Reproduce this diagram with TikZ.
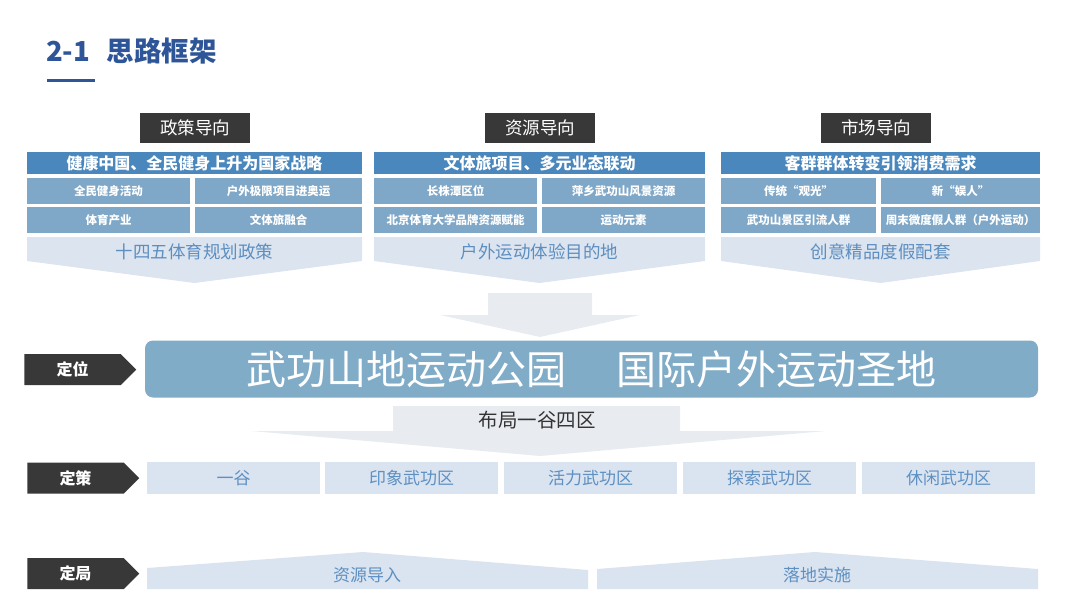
\documentclass[tikz,border=0pt]{standalone}
\usepackage{fontspec}
\setmainfont{Noto Sans CJK SC}
\usepackage{tikz}
\usetikzlibrary{shapes.symbols}
\definecolor{titleblue}{HTML}{2E5597}
\definecolor{hdrgray}{HTML}{383838}
\definecolor{barblue}{HTML}{4A87BD}
\definecolor{cellblue}{HTML}{7FA7C8}
\definecolor{chevfill}{HTML}{DCE4F0}
\definecolor{chevtext}{HTML}{5C8EC0}
\definecolor{mainbar}{HTML}{80ACC8}
\definecolor{arrowgray}{HTML}{E8ECF1}
\definecolor{zonefill}{HTML}{DAE3F0}
\definecolor{zonetext}{HTML}{5E90C2}

\begin{document}
\begin{tikzpicture}[x=1pt, y=-1pt,
    hdr/.style={fill=hdrgray, text=white, minimum width=110, minimum height=30,
        inner sep=0, font=\fontsize{17.5}{18}\selectfont},
    bar/.style={fill=barblue, text=white, minimum height=22, inner sep=0,
        font=\bfseries\fontsize{16}{16}\selectfont},
    cell/.style={fill=cellblue, text=white, minimum height=26, inner sep=0,
        font=\bfseries\fontsize{11.5}{12}\selectfont},
    goal/.style={text=chevtext, inner sep=0, font=\fontsize{17.5}{18}\selectfont},
    tagbox/.style={signal, signal to=east, fill=hdrgray, text=white,
        minimum width=112, minimum height=31, inner sep=0,
        font=\bfseries\fontsize{16}{16}\selectfont},
    zone/.style={fill=zonefill, text=zonetext, minimum width=173, minimum height=32,
        inner sep=0, font=\fontsize{17}{17}\selectfont}]
    \useasboundingbox (0,0) rectangle (1080,608);
    % title
    \node[anchor=west, inner sep=0, text=titleblue, font=\bfseries\fontsize{27.5}{28}\selectfont]
        (title) at (46,51) {2-1\hspace{0.6em}思路框架};
    \draw[titleblue, line width=3] (47,80) -- (95,80);

    % policy column
    \node[hdr] (policy) at (195,128) {政策导向};
    \node[bar, minimum width=335] (policybar) at (194.5,163) {健康中国、全民健身上升为国家战略};
    \node[cell, minimum width=163] (policya) at (108.5,191) {全民健身活动};
    \node[cell, minimum width=167] (policyb) at (278.5,191) {户外极限项目进奥运};
    \node[cell, minimum width=163] (policyc) at (108.5,220) {体育产业};
    \node[cell, minimum width=167] (policyd) at (278.5,220) {文体旅融合};
    \fill[chevfill] (27,237) -- (362,237) -- (362,261) -- (194.5,283) -- (27,261) -- cycle;
    \node[goal] (policygoal) at (194.5,252) {十四五体育规划政策};

    % resource column
    \node[hdr] (resource) at (540,128) {资源导向};
    \node[bar, minimum width=331] (resourcebar) at (539.5,163) {文体旅项目、多元业态联动};
    \node[cell, minimum width=163] (resourcea) at (455.5,191) {长株潭区位};
    \node[cell, minimum width=163] (resourceb) at (623.5,191) {萍乡武功山风景资源};
    \node[cell, minimum width=163] (resourcec) at (455.5,220) {北京体育大学品牌资源赋能};
    \node[cell, minimum width=163] (resourced) at (623.5,220) {运动元素};
    \fill[chevfill] (374,237) -- (705,237) -- (705,261) -- (539.5,283) -- (374,261) -- cycle;
    \node[goal] (resourcegoal) at (539.5,252) {户外运动体验目的地};

    % market column
    \node[hdr] (market) at (876,128) {市场导向};
    \node[bar, minimum width=319] (marketbar) at (880.5,163) {客群群体转变引领消费需求};
    \node[cell, minimum width=155] (marketa) at (798.5,191) {传统“观光”};
    \node[cell, minimum width=159] (marketb) at (960.5,191) {新“娱人”};
    \node[cell, minimum width=155] (marketc) at (798.5,220) {武功山景区引流人群};
    \node[cell, minimum width=159] (marketd) at (960.5,220) {周末微度假人群（户外运动）};
    \fill[chevfill] (721,237) -- (1040,237) -- (1040,261) -- (880.5,283) -- (721,261) -- cycle;
    \node[goal] (marketgoal) at (880.5,252) {创意精品度假配套};

    % positioning
    \fill[arrowgray] (488,293) -- (592,293) -- (592,315) -- (640,315) -- (540,337)
        -- (440,315) -- (488,315) -- cycle;
    \node[tagbox] (tagpos) at (72.5,369.5) {定位};
    \node[fill=mainbar, rounded corners=8, minimum width=893, minimum height=57,
        text=white, font=\fontsize{40}{40}\selectfont]
        (position) at (591.5,369) {武功山地运动公园\hspace{1.25em}国际户外运动圣地};
    \fill[arrowgray] (393,406) -- (680,406) -- (680,431) -- (826,431) -- (540,456)
        -- (251,431) -- (393,431) -- cycle;
    \node[inner sep=0, text=black!80, font=\fontsize{19.5}{20}\selectfont]
        (layout) at (537,420) {布局一谷四区};

    % strategy
    \node[tagbox] (tagstrat) at (75.5,478) {定策};
    \node[zone] (valley) at (233.5,478) {一谷};
    \node[zone] (impress) at (411.5,478) {印象武功区};
    \node[zone] (vital) at (590.5,478) {活力武功区};
    \node[zone] (explore) at (769.5,478) {探索武功区};
    \node[zone] (leisure) at (948.5,478) {休闲武功区};

    % layout
    \node[tagbox] (tagplan) at (75.5,573.5) {定局};
    \fill[zonefill] (147,589) -- (147,568) -- (363,552) -- (588,570) -- (588,589) -- cycle;
    \fill[zonefill] (597,589) -- (597,569) -- (815,552) -- (1038,569) -- (1038,589) -- cycle;
    \node[inner sep=0, text=zonetext, font=\fontsize{17}{17}\selectfont]
        (import) at (367,575) {资源导入};
    \node[inner sep=0, text=zonetext, font=\fontsize{17}{17}\selectfont]
        (landing) at (817,575) {落地实施};
\end{tikzpicture}
\end{document}
